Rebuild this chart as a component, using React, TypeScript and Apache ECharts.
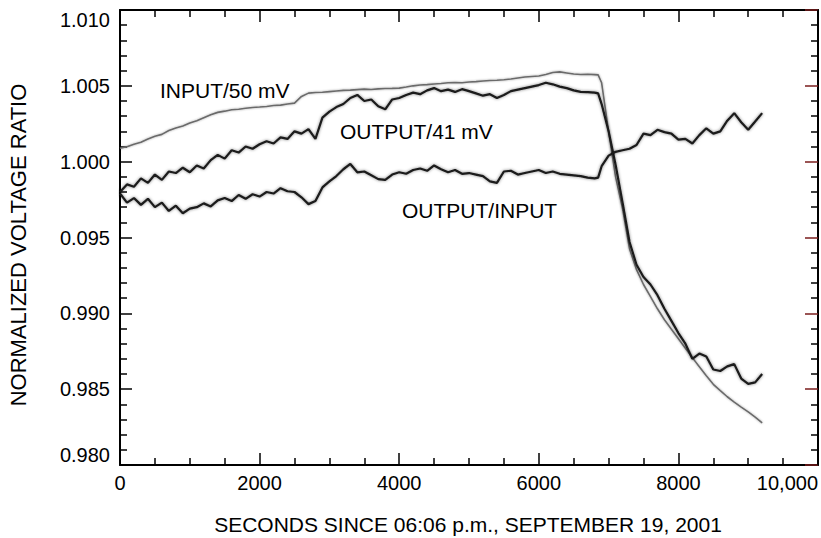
import React, { useEffect, useRef } from "react";
import * as echarts from "echarts";

const seconds = [
  0, 100, 200, 300, 400, 500, 600, 700, 800, 900,
  1000, 1100, 1200, 1300, 1400, 1500, 1600, 1700, 1800, 1900,
  2000, 2100, 2200, 2300, 2400, 2500, 2600, 2700, 2800, 2900,
  3000, 3100, 3200, 3300, 3400, 3500, 3600, 3700, 3800, 3900,
  4000, 4100, 4200, 4300, 4400, 4500, 4600, 4700, 4800, 4900,
  5000, 5100, 5200, 5300, 5400, 5500, 5600, 5700, 5800, 5900,
  6000, 6100, 6200, 6300, 6400, 6500, 6600, 6700, 6800,
  6850,
  6900, 7000, 7100, 7200, 7300, 7400, 7500, 7600, 7700, 7800, 7900,
  8000, 8100, 8200, 8300, 8400, 8500, 8600, 8700, 8800, 8900, 9000, 9100, 9200,
];

const input50mV = [
  1.00088, 1.00098, 1.00115, 1.00128, 1.0015, 1.00168, 1.0018, 1.00205, 1.00222, 1.00235,
  1.00255, 1.0027, 1.0029, 1.0031, 1.00325, 1.00333, 1.00342, 1.00346, 1.00352, 1.00357,
  1.0036, 1.00364, 1.0037, 1.00373, 1.0038, 1.00386, 1.0043, 1.00452, 1.00456, 1.00458,
  1.00462, 1.00466, 1.0047, 1.00472, 1.00475, 1.00478, 1.00476, 1.0048, 1.00482, 1.00483,
  1.00485, 1.00492, 1.005, 1.00505, 1.00508, 1.00512, 1.00515, 1.0052, 1.00522, 1.0052,
  1.00525, 1.00528, 1.00532, 1.00535, 1.00537, 1.0054, 1.00545, 1.00552, 1.00558, 1.00562,
  1.00565, 1.00575, 1.00588, 1.00592, 1.00585, 1.00578, 1.00575, 1.00576, 1.00574,
  1.00572,
  1.0052, 1.002, 0.999, 0.9969, 0.99425, 0.99288, 0.9919, 0.9911, 0.9903, 0.98958, 0.98895,
  0.98833, 0.9877, 0.98708, 0.98648, 0.98588, 0.98532, 0.9849, 0.9845, 0.98415, 0.98382, 0.9835, 0.98315, 0.98277,
];

const output41mV = [
  0.998, 0.9985, 0.99835, 0.9989, 0.9986, 0.99915, 0.9988, 0.99935, 0.99925, 0.9996,
  0.9993, 0.99975, 0.99955, 1.0001, 1.00045, 1.0002, 1.00075, 1.0006, 1.001, 1.00085,
  1.00115, 1.00135, 1.0012, 1.0016, 1.0015, 1.002, 1.00185, 1.00215, 1.0015, 1.0029,
  1.0033, 1.0036, 1.0038, 1.0042, 1.0044, 1.004, 1.0041, 1.00365, 1.00345, 1.0041,
  1.0042, 1.0044, 1.00455, 1.00445, 1.0047, 1.00485, 1.00465, 1.00475, 1.0046, 1.00478,
  1.00465, 1.0045, 1.00435, 1.00445, 1.0042, 1.0044, 1.00465, 1.00475, 1.00485, 1.00495,
  1.00505, 1.0052, 1.0051, 1.00495, 1.00485, 1.0047, 1.0046, 1.00458, 1.00455,
  1.0045,
  1.0038, 1.002, 0.9998, 0.9973, 0.9947, 0.9932, 0.9924, 0.9919, 0.9912, 0.9903, 0.9895,
  0.9887, 0.988, 0.987, 0.98735, 0.98715, 0.9863, 0.9862, 0.9865, 0.98665, 0.9857, 0.98535, 0.98545, 0.986,
];

const outputOverInput = [
  0.9979, 0.9973, 0.9976, 0.99715, 0.99755, 0.997, 0.9973, 0.99675, 0.9971, 0.9966,
  0.9969, 0.997, 0.99725, 0.99705, 0.99745, 0.9976, 0.9974, 0.9978, 0.99755, 0.99785,
  0.9977, 0.998, 0.9979, 0.99825, 0.99805, 0.998, 0.99765, 0.9972, 0.9974, 0.9983,
  0.9987, 0.99905, 0.9995, 0.99985, 0.9993, 0.99935, 0.9991, 0.99885, 0.9988, 0.99915,
  0.9993, 0.9992, 0.99945, 0.99955, 0.9994, 0.99975, 0.9995, 0.9993, 0.99945, 0.9992,
  0.99925, 0.99915, 0.99905, 0.9987, 0.9986, 0.99935, 0.9994, 0.99915, 0.99925, 0.99935,
  0.99945, 0.99925, 0.99935, 0.9992, 0.99915, 0.9991, 0.99905, 0.99895, 0.9989,
  0.99895,
  0.9997, 1.0004, 1.00065, 1.00075, 1.00085, 1.0011, 1.00185, 1.00175, 1.0021, 1.00195, 1.00185,
  1.00145, 1.0015, 1.0012, 1.00175, 1.0022, 1.00185, 1.002, 1.0027, 1.0032, 1.0026, 1.0021, 1.00265, 1.0032,
];

const xTickLabels = ["0", "2000", "4000", "6000", "8000", "10,000"];
const yTickLabels = ["0.980", "0.985", "0.990", "0.095", "1.000", "1.005", "1.010"];

const seriesNames = ["INPUT/50 mV", "OUTPUT/41 mV", "OUTPUT/INPUT"];
const xTitle = "SECONDS SINCE 06:06 p.m., SEPTEMBER 19, 2001";
const yTitle = "NORMALIZED VOLTAGE RATIO";

const FONT = '"Liberation Sans", Arial, Helvetica, sans-serif';

export default function App() {
  const ref = useRef<HTMLDivElement>(null);

  useEffect(() => {
    if (!ref.current) return;
    const chart = echarts.init(ref.current, null, { renderer: "svg" });

    const X_MIN = 0, X_MAX = 10000, X_INT = 2000;
    const Y_MIN = 0.98, Y_MAX = 1.01, Y_INT = 0.005;

    const xLabel = (v: number) => xTickLabels[Math.round(v / X_INT)] ?? "";
    const yLabel = (v: number) => yTickLabels[Math.round((v - Y_MIN) / Y_INT)] ?? "";

    const baseX = {
      type: "value" as const,
      min: X_MIN,
      max: X_MAX,
      interval: X_INT,
      splitLine: { show: false },
      axisLine: { show: true, onZero: false, lineStyle: { color: "#000", width: 2 } },
      axisTick: { show: true, inside: true, length: 12, lineStyle: { color: "#000", width: 1.5 } },
      minorTick: { show: true, splitNumber: 4, length: 7, lineStyle: { color: "#000", width: 1.5 } },
      minorSplitLine: { show: false },
    };
    const baseY = {
      type: "value" as const,
      min: Y_MIN,
      max: Y_MAX,
      interval: Y_INT,
      splitLine: { show: false },
      axisLine: { show: true, onZero: false, lineStyle: { color: "#000", width: 2 } },
      axisTick: { show: true, inside: true, length: 12, lineStyle: { color: "#000", width: 1.5 } },
      minorTick: { show: true, splitNumber: 5, length: 7, lineStyle: { color: "#000", width: 1.5 } },
      minorSplitLine: { show: false },
    };

    const mk = (vals: number[]) => seconds.map((t, i) => [t, vals[i]]);

    chart.setOption({
      animation: false,
      backgroundColor: "#fff",
      grid: { left: 120, right: 3, top: 10, bottom: 73, containLabel: false },
      xAxis: [
        {
          ...baseX,
          position: "bottom",
          axisLabel: {
            show: true,
            color: "#000",
            fontSize: 20,
            fontFamily: FONT,
            margin: 8,
            formatter: xLabel,
            alignMaxLabel: "right",
          },
        },
        { ...baseX, position: "top", axisLabel: { show: false } },
      ],
      yAxis: [
        {
          ...baseY,
          position: "left",
          axisLabel: {
            show: true,
            color: "#000",
            fontSize: 20,
            fontFamily: FONT,
            margin: 10,
            formatter: yLabel,
            verticalAlignMaxLabel: "top",
            verticalAlignMinLabel: "bottom",
          },
        },
        {
          ...baseY,
          position: "right",
          axisTick: { show: true, inside: true, length: 13, lineStyle: { color: "#7a1c1c", width: 1.5 } },
          axisLabel: { show: false },
        },
      ],
      series: [
        {
          name: seriesNames[0],
          type: "line",
          data: mk(input50mV),
          showSymbol: false,
          symbol: "none",
          lineStyle: { color: "#6a6a6a", width: 1.6, shadowBlur: 2, shadowColor: "rgba(0,0,0,0.35)" },
          z: 2,
        },
        {
          name: seriesNames[1],
          type: "line",
          data: mk(output41mV),
          showSymbol: false,
          symbol: "none",
          lineStyle: { color: "#1a1a1a", width: 2.2, shadowBlur: 3, shadowColor: "rgba(0,0,0,0.5)" },
          z: 3,
        },
        {
          name: seriesNames[2],
          type: "line",
          data: mk(outputOverInput),
          showSymbol: false,
          symbol: "none",
          lineStyle: { color: "#1a1a1a", width: 2.2, shadowBlur: 3, shadowColor: "rgba(0,0,0,0.5)" },
          z: 3,
        },
      ],
      graphic: [
        {
          type: "text",
          x: 18,
          y: 245,
          rotation: Math.PI / 2,
          style: { text: yTitle, fontSize: 22, fontFamily: FONT, fill: "#000", align: "center", verticalAlign: "middle" },
        },
        {
          type: "text",
          x: 468,
          y: 524,
          style: { text: xTitle, fontSize: 21, fontFamily: FONT, fill: "#000", align: "center", verticalAlign: "middle" },
        },
        {
          type: "text",
          x: 160,
          y: 90,
          style: { text: seriesNames[0], fontSize: 21, fontFamily: FONT, fill: "#000", align: "left", verticalAlign: "middle" },
        },
        {
          type: "text",
          x: 340,
          y: 131,
          style: { text: seriesNames[1], fontSize: 21, fontFamily: FONT, fill: "#000", align: "left", verticalAlign: "middle" },
        },
        {
          type: "text",
          x: 402,
          y: 210,
          style: { text: seriesNames[2], fontSize: 21, fontFamily: FONT, fill: "#000", align: "left", verticalAlign: "middle" },
        },
      ],
    });

    return () => chart.dispose();
  }, []);

  return (
    <div
      ref={ref}
      style={{ position: "fixed", left: 0, top: 0, width: 821, height: 538, background: "#fff" }}
    />
  );
}
